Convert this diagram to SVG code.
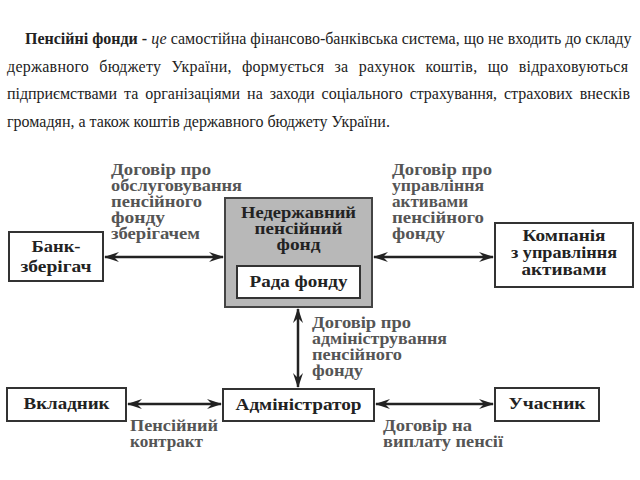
<svg xmlns="http://www.w3.org/2000/svg" width="640" height="480" viewBox="0 0 640 480">
<style>
.p{font-family:'Liberation Serif','DejaVu Serif',serif;font-size:16px;fill:#222}
.b{font-weight:bold}
.i{font-style:italic}
.box{fill:#fff;stroke:#333;stroke-width:2}
.gbox{fill:#b8b8b8;stroke:#444;stroke-width:2}
.bt{font-family:'Liberation Serif','DejaVu Serif',serif;font-size:16px;font-weight:bold;fill:#222;text-anchor:middle}
.lt{font-family:'Liberation Serif','DejaVu Serif',serif;font-size:16px;font-weight:bold;fill:#555}
.ar{stroke:#222;stroke-width:2.5;fill:none;marker-start:url(#ah);marker-end:url(#ah)}
</style>
<defs>
<marker id="ah" markerUnits="userSpaceOnUse" markerWidth="16" markerHeight="12" refX="14" refY="5" orient="auto-start-reverse" viewBox="0 0 16 10">
<path d="M0,0 L15,5 L0,10 L5,5 Z" fill="#222"/>
</marker>
</defs>
<rect width="640" height="480" fill="#fff"/>
<g id="paragraph">
<text class="p" x="25" y="44"><tspan class="b">Пенсійні фонди - </tspan><tspan class="i">це</tspan> самостійна фінансово-банківська система, що не входить до складу</text>
<text class="p" x="7" y="72" word-spacing="6" textLength="621" lengthAdjust="spacing">державного бюджету України, формується за рахунок коштів, що відраховуються</text>
<text class="p" x="7" y="99" word-spacing="3" textLength="623" lengthAdjust="spacing">підприємствами та організаціями на заходи соціального страхування, страхових внесків</text>
<text class="p" x="7" y="127">громадян, а також коштів державного бюджету України.</text>
</g>
<g id="connectors">
<line class="ar" x1="105" y1="257" x2="223" y2="257"/>
<line class="ar" x1="374" y1="257" x2="493" y2="257"/>
<line class="ar" x1="298" y1="309" x2="298" y2="387"/>
<line class="ar" x1="128" y1="404" x2="221" y2="404"/>
<line class="ar" x1="376" y1="404" x2="493" y2="404"/>
<g id="label-bank">
<text class="lt" x="111" y="175" textLength="100" lengthAdjust="spacingAndGlyphs">Договір про</text>
<text class="lt" x="111" y="191" textLength="131" lengthAdjust="spacingAndGlyphs">обслуговування</text>
<text class="lt" x="111" y="207" textLength="91" lengthAdjust="spacingAndGlyphs">пенсійного</text>
<text class="lt" x="111" y="223" textLength="54" lengthAdjust="spacingAndGlyphs">фонду</text>
<text class="lt" x="111" y="239" textLength="89" lengthAdjust="spacingAndGlyphs">зберігачем</text>
</g>
<g id="label-asset">
<text class="lt" x="392" y="175" textLength="100" lengthAdjust="spacingAndGlyphs">Договір про</text>
<text class="lt" x="392" y="191" textLength="92" lengthAdjust="spacingAndGlyphs">управління</text>
<text class="lt" x="392" y="207" textLength="76" lengthAdjust="spacingAndGlyphs">активами</text>
<text class="lt" x="392" y="223" textLength="92" lengthAdjust="spacingAndGlyphs">пенсійного</text>
<text class="lt" x="392" y="239" textLength="53" lengthAdjust="spacingAndGlyphs">фонду</text>
</g>
<g id="label-admin">
<text class="lt" x="312" y="328" textLength="99" lengthAdjust="spacingAndGlyphs">Договір про</text>
<text class="lt" x="312" y="344" textLength="135" lengthAdjust="spacingAndGlyphs">адміністрування</text>
<text class="lt" x="312" y="360" textLength="90" lengthAdjust="spacingAndGlyphs">пенсійного</text>
<text class="lt" x="312" y="376" textLength="51" lengthAdjust="spacingAndGlyphs">фонду</text>
</g>
<g id="label-contract">
<text class="lt" x="130" y="431" textLength="88" lengthAdjust="spacingAndGlyphs">Пенсійний</text>
<text class="lt" x="130" y="447" textLength="73" lengthAdjust="spacingAndGlyphs">контракт</text>
</g>
<g id="label-payment">
<text class="lt" x="383" y="431" textLength="89" lengthAdjust="spacingAndGlyphs">Договір на</text>
<text class="lt" x="383" y="447" textLength="120" lengthAdjust="spacingAndGlyphs">виплату пенсії</text>
</g>
</g>
<g id="fund">
<rect class="gbox" x="225" y="198" width="147" height="109"/>
<text class="bt" x="298.5" y="218" textLength="115" lengthAdjust="spacingAndGlyphs">Недержавний</text>
<text class="bt" x="298.5" y="234" textLength="88" lengthAdjust="spacingAndGlyphs">пенсійний</text>
<text class="bt" x="298.5" y="250" textLength="44" lengthAdjust="spacingAndGlyphs">фонд</text>
</g>
<g id="board">
<rect class="box" x="237" y="266" width="123" height="32"/>
<text class="bt" x="298.5" y="287" textLength="98" lengthAdjust="spacingAndGlyphs">Рада фонду</text>
</g>
<g id="bank">
<rect class="box" x="9" y="232" width="94" height="49"/>
<text class="bt" x="56" y="252" textLength="49" lengthAdjust="spacingAndGlyphs">Банк-</text>
<text class="bt" x="56" y="272" textLength="71" lengthAdjust="spacingAndGlyphs">зберігач</text>
</g>
<g id="company">
<rect class="box" x="495" y="223" width="138" height="64"/>
<text class="bt" x="564" y="241" font-size="15" textLength="83" lengthAdjust="spacingAndGlyphs">Компанія</text>
<text class="bt" x="564" y="258" font-size="15" textLength="106" lengthAdjust="spacingAndGlyphs">з управління</text>
<text class="bt" x="564" y="275" font-size="15" textLength="85" lengthAdjust="spacingAndGlyphs">активами</text>
</g>
<g id="depositor">
<rect class="box" x="7" y="388" width="119" height="33"/>
<text class="bt" x="66.5" y="409" textLength="86" lengthAdjust="spacingAndGlyphs">Вкладник</text>
</g>
<g id="administrator">
<rect class="box" x="223" y="389" width="151" height="32"/>
<text class="bt" x="298.5" y="410" textLength="126" lengthAdjust="spacingAndGlyphs">Адміністратор</text>
</g>
<g id="participant">
<rect class="box" x="495" y="388" width="104" height="33"/>
<text class="bt" x="547" y="409" textLength="77" lengthAdjust="spacingAndGlyphs">Учасник</text>
</g>
</svg>
